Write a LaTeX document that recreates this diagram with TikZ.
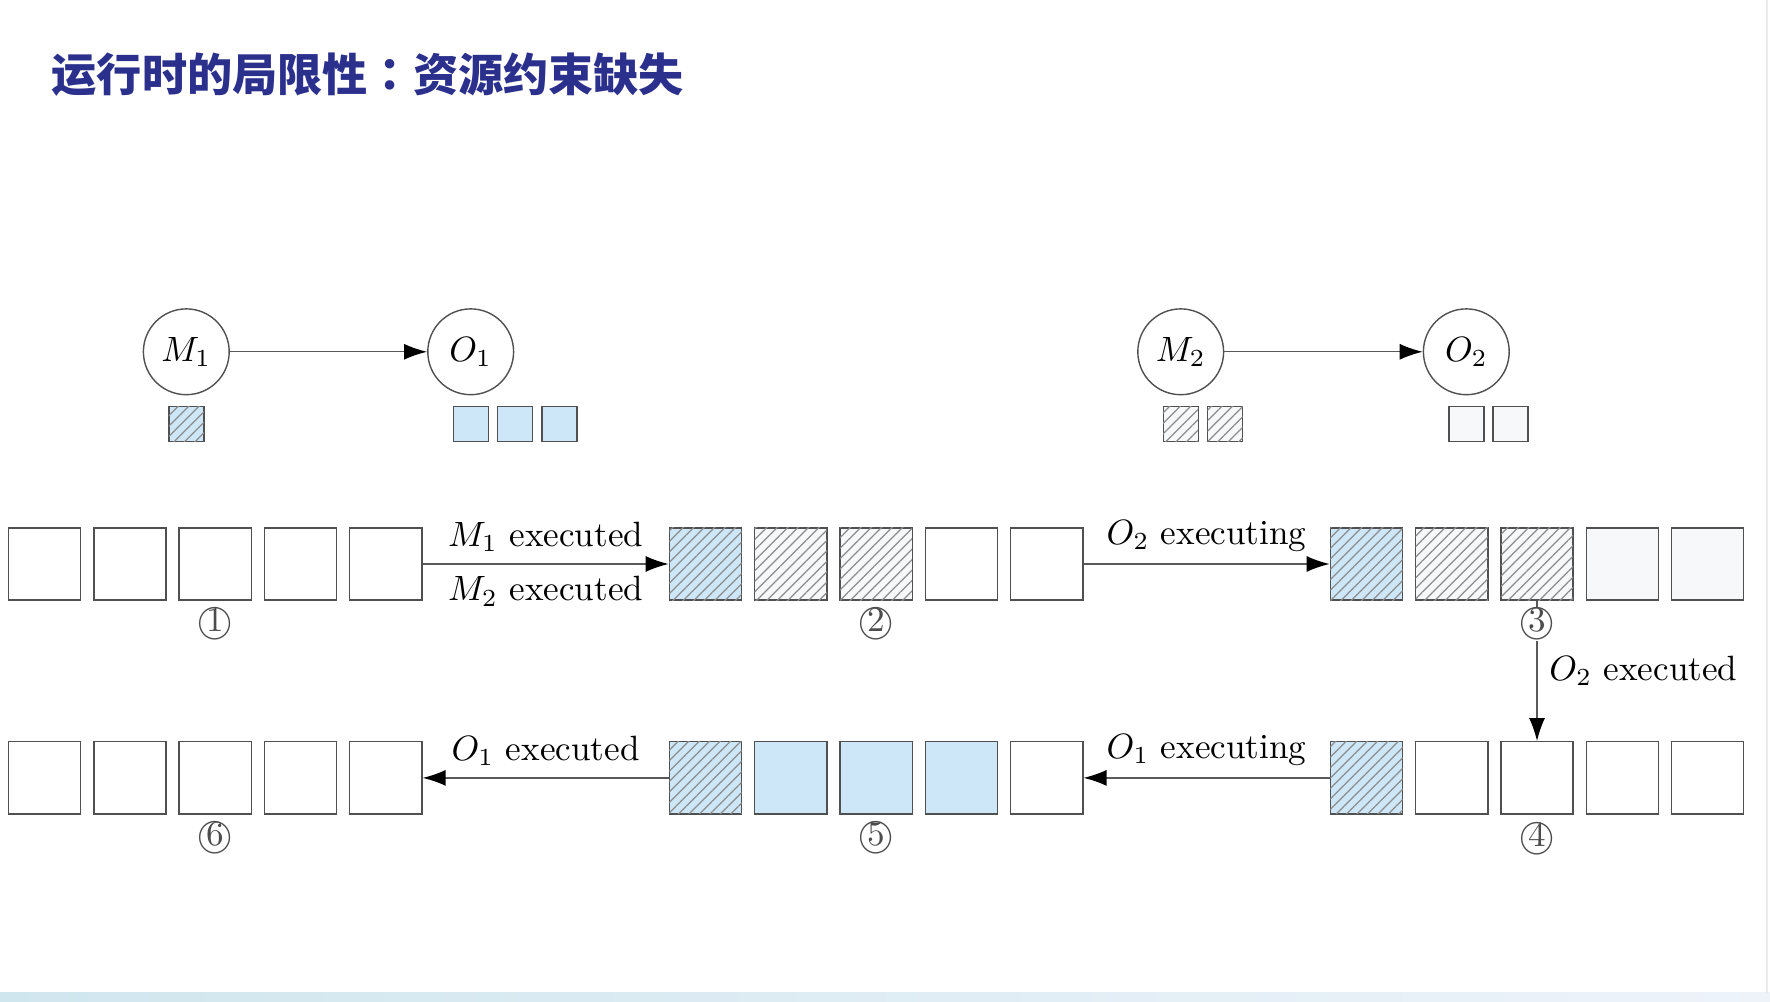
\documentclass[tikz,border=0pt]{standalone}
\usepackage{fontspec}
\newfontfamily\cjk{Noto Sans CJK SC}
\newfontfamily\cjktc{Noto Sans CJK TC}
\usetikzlibrary{positioning,patterns.meta,arrows.meta}
\definecolor{titleblue}{RGB}{43,48,140}
\definecolor{memblue}{RGB}{205,231,249}
\definecolor{freegray}{RGB}{247,248,250}
\definecolor{linegray}{RGB}{80,80,80}
\definecolor{stripl}{RGB}{208,230,238}
\definecolor{stripr}{RGB}{238,243,250}

\begin{document}
\begin{tikzpicture}[
  box/.style = {draw=linegray, fill=white, minimum size=0.722cm, inner sep=0},
  hatch/.style = {postaction={pattern={Lines[angle=45,distance=2.1pt,line width=0.35pt]}, pattern color=black!45}},
  mbox/.style = {box, fill=memblue, hatch},
  obox/.style = {box, fill=freegray, hatch},
  ubox/.style = {box, fill=memblue},
  gbox/.style = {box, fill=freegray},
  small/.style = {minimum size=0.35cm},
  op/.style = {circle, draw=linegray, minimum size=0.858cm, inner sep=0},
  num/.style = {fill=white, text=black!70, inner sep=0.4pt, below=1.6pt of #1},
  flow/.style = {draw=black!65, -{Latex[length=2.3mm,width=1.6mm,color=black]}}
]
\useasboundingbox (0,0) rectangle (17.70,10.02);
\shade [left color=stripl, right color=stripr] (0,0) rectangle (17.70,0.09);
\draw [black!8] (17.67,0.09) -- (17.67,10.02);

\node [anchor=west, inner sep=0, text=titleblue, font=\cjk\bfseries\fontsize{12.85}{15}\selectfont] (title) at (0.51,9.27) {运行时的局限性{\cjktc\bfseries ：}资源约束缺失};

% operators and their memory
\node [op] (m1) at (1.863,6.502) {$M_1$};
\node [op] (o1) at (4.707,6.502) {$O_1$};
\node [op] (m2) at (11.807,6.502) {$M_2$};
\node [op] (o2) at (14.663,6.502) {$O_2$};
\draw [flow] (m1) -- (o1);
\draw [flow] (m2) -- (o2);

\node [mbox, small, below=0.107cm of m1] (m1a) {};
\node [ubox, small, below=0.107cm of o1] (o1a) {};
\node [ubox, small, right=0.079cm of o1a] (o1b) {};
\node [ubox, small, right=0.079cm of o1b] (o1c) {};
\node [obox, small, below=0.107cm of m2] (m2a) {};
\node [obox, small, right=0.079cm of m2a] (m2b) {};
\node [gbox, small, below=0.107cm of o2] (o2a) {};
\node [gbox, small, right=0.079cm of o2a] (o2b) {};

% memory states
\foreach \s [count=\k from 0] in {box,box,box,box,box,mbox,obox,obox,box,box,mbox,obox,obox,gbox,gbox}
  \node [\s] (a\k) at ({0.446+6.609*int(\k/5)+0.853*mod(\k,5)},4.380) {};
\foreach \s [count=\k from 0] in {box,box,box,box,box,mbox,ubox,ubox,ubox,box,mbox,box,box,box,box}
  \node [\s] (b\k) at ({0.446+6.609*int(\k/5)+0.853*mod(\k,5)},2.241) {};

\draw [flow] (a4) -- (a5) node [midway,above] {$M_1$ executed} node [midway,below] {$M_2$ executed};
\draw [flow] (a9) -- (a10) node [midway,above] {$O_2$ executing};
\draw [flow] (a12) -- (b12) node [midway,right] {$O_2$ executed};
\draw [flow] (b10) -- (b9) node [midway,above] {$O_1$ executing};
\draw [flow] (b5) -- (b4) node [midway,above] {$O_1$ executed};

\node [num=a2] (n1) {\textcircled{1}};
\node [num=a7] (n2) {\textcircled{2}};
\node [num=a12] (n3) {\textcircled{3}};
\node [num=b12] (n4) {\textcircled{4}};
\node [num=b7] (n5) {\textcircled{5}};
\node [num=b2] (n6) {\textcircled{6}};
\end{tikzpicture}
\end{document}
